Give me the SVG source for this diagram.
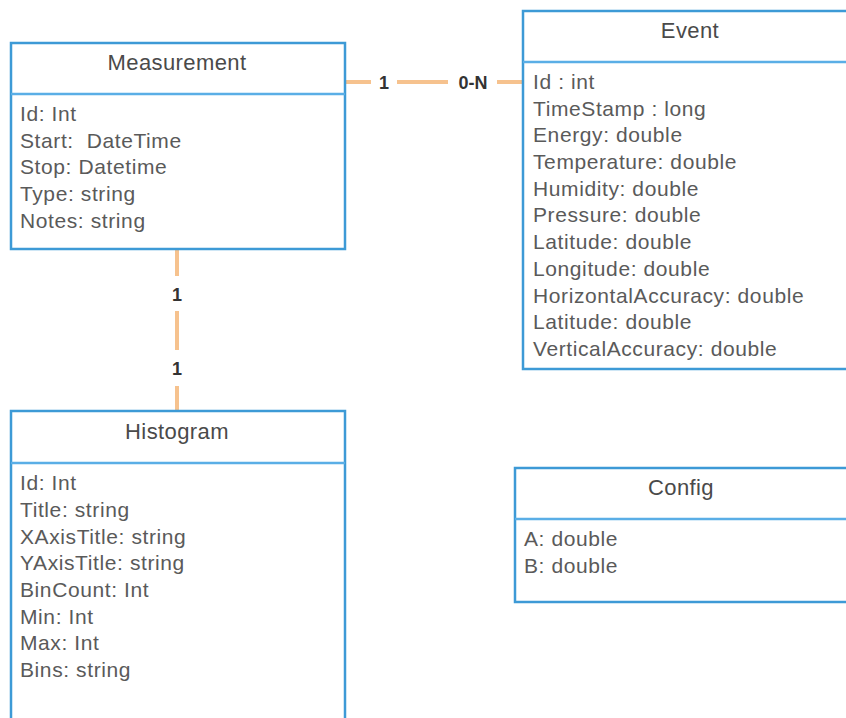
<svg xmlns="http://www.w3.org/2000/svg" width="846" height="718" viewBox="0 0 846 718">
<style>
.box{fill:#fff;stroke:#3d9ad6;stroke-width:2.5}
.div{stroke:#5aaee6;stroke-width:2.5}
.title{font-family:"Liberation Sans",Arial,sans-serif;font-size:22px;letter-spacing:0.4px;fill:#4a4a4a;text-anchor:middle}
.attr{font-family:"Liberation Sans",Arial,sans-serif;font-size:21px;letter-spacing:0.6px;fill:#5a5a5a;white-space:pre}
.conn{stroke:#f6c28e;stroke-width:4;fill:none}
.lbl{font-family:"Liberation Sans",Arial,sans-serif;font-size:18px;font-weight:bold;fill:#333;text-anchor:middle}
</style>
<rect width="846" height="718" fill="#fff"/>
<g id="connectors">
<line class="conn" x1="345" y1="82" x2="371" y2="82"/>
<line class="conn" x1="397" y1="82" x2="448" y2="82"/>
<line class="conn" x1="497" y1="82" x2="522" y2="82"/>
<text class="lbl" x="384" y="89">1</text>
<text class="lbl" x="473" y="89">0-N</text>
<line class="conn" x1="177" y1="249" x2="177" y2="276"/>
<line class="conn" x1="177" y1="311" x2="177" y2="350"/>
<line class="conn" x1="177" y1="386" x2="177" y2="411"/>
<text class="lbl" x="177" y="301">1</text>
<text class="lbl" x="177" y="375">1</text>
</g>
<g id="Measurement">
<rect class="box" x="11" y="43" width="334" height="206"/>
<line class="div" x1="11" y1="94" x2="345" y2="94"/>
<text class="title" x="177" y="70">Measurement</text>
<text class="attr" x="20" y="121">Id: Int</text>
<text class="attr" x="20" y="148" xml:space="preserve">Start:  DateTime</text>
<text class="attr" x="20" y="174">Stop: Datetime</text>
<text class="attr" x="20" y="201">Type: string</text>
<text class="attr" x="20" y="228">Notes: string</text>
</g>
<g id="Event">
<rect class="box" x="523" y="11" width="330" height="358"/>
<line class="div" x1="523" y1="62" x2="853" y2="62"/>
<text class="title" x="690" y="38">Event</text>
<text class="attr" x="533" y="89">Id : int</text>
<text class="attr" x="533" y="116">TimeStamp : long</text>
<text class="attr" x="533" y="142">Energy: double</text>
<text class="attr" x="533" y="169">Temperature: double</text>
<text class="attr" x="533" y="196">Humidity: double</text>
<text class="attr" x="533" y="222">Pressure: double</text>
<text class="attr" x="533" y="249">Latitude: double</text>
<text class="attr" x="533" y="276">Longitude: double</text>
<text class="attr" x="533" y="303">HorizontalAccuracy: double</text>
<text class="attr" x="533" y="329">Latitude: double</text>
<text class="attr" x="533" y="356">VerticalAccuracy: double</text>
</g>
<g id="Histogram">
<rect class="box" x="11" y="411" width="334" height="320"/>
<line class="div" x1="11" y1="463" x2="345" y2="463"/>
<text class="title" x="177" y="439">Histogram</text>
<text class="attr" x="20" y="490">Id: Int</text>
<text class="attr" x="20" y="517">Title: string</text>
<text class="attr" x="20" y="544">XAxisTitle: string</text>
<text class="attr" x="20" y="570">YAxisTitle: string</text>
<text class="attr" x="20" y="597">BinCount: Int</text>
<text class="attr" x="20" y="624">Min: Int</text>
<text class="attr" x="20" y="650">Max: Int</text>
<text class="attr" x="20" y="677">Bins: string</text>
</g>
<g id="Config">
<rect class="box" x="515" y="468" width="340" height="134"/>
<line class="div" x1="515" y1="519" x2="855" y2="519"/>
<text class="title" x="681" y="495">Config</text>
<text class="attr" x="524" y="546">A: double</text>
<text class="attr" x="524" y="573">B: double</text>
</g>
</svg>
